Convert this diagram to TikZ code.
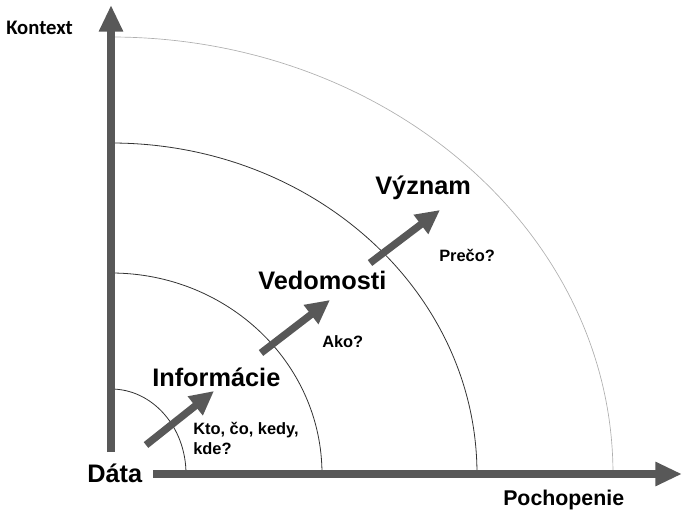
\documentclass[tikz,border=0pt]{standalone}
\usepackage{fontspec}
\setmainfont{Liberation Sans}
\newfontfamily\kontextfont{Carlito}
\usetikzlibrary{arrows.meta}
\definecolor{axisgray}{RGB}{88,88,88}
\definecolor{arcgray}{RGB}{175,175,175}

\begin{document}
\begin{tikzpicture}[x=0.75pt,y=0.75pt,
    every node/.style={inner sep=0pt,font=\bfseries},
    axis/.style={axisgray,line width=5.5pt,-{Triangle[length=20pt,width=17pt]}},
    climb/.style={axisgray,line width=5.5pt,-{Triangle[length=18pt,width=17pt]}},
    ring/.style={black!80,line width=0.6pt},
    biglabel/.style={anchor=base west,font=\bfseries\fontsize{19}{22}\selectfont},
    asklabel/.style={anchor=base west,font=\bfseries\fontsize{12.3}{15}\selectfont}]
    \useasboundingbox (0,0) rectangle (683,512);
    \coordinate (O) at (111,38);
    % arcs
    \draw[ring] (O) ++(75,0) arc (0:90:75 and 85);
    \draw[ring] (O) ++(211,0) arc (0:90:211 and 201);
    \draw[ring] (O) ++(366,0) arc (0:90:366 and 331);
    \draw[arcgray,line width=0.5pt] (O) ++(502,0) arc (0:90:502 and 437);
    % axes
    \coordinate (ybot) at (111,60);
    \coordinate (ytop) at (111,507);
    \coordinate (xleft) at (153,38);
    \coordinate (xright) at (682,38);
    \draw[axis] (ybot) -- (ytop);
    \draw[axis] (xleft) -- (xright);
    \node[anchor=base west,font=\kontextfont\bfseries\fontsize{15.5}{18}\selectfont] (kontext) at (6,477) {Kontext};
    \node[anchor=base west,font=\bfseries\fontsize{16}{19}\selectfont] (pochopenie) at (503,7) {Pochopenie};
    % levels
    \node[biglabel] (data) at (87,30) {Dáta};
    \node[biglabel] (info) at (152,126) {Informácie};
    \node[biglabel] (vedom) at (258,223) {Vedomosti};
    \node[biglabel] (vyznam) at (375,318) {Význam};
    \node[anchor=north west,align=left,font=\bfseries\fontsize{12.3}{15}\selectfont] (kto) at (193,90) {Kto, čo, kedy,\\kde?};
    \node[asklabel] (ako) at (322,165) {Ako?};
    \node[asklabel] (preco) at (439,251) {Prečo?};
    % steps
    \coordinate (s1) at (146,67);  \coordinate (e1) at (214,121);
    \coordinate (s2) at (261,159); \coordinate (e2) at (330,212);
    \coordinate (s3) at (370,249); \coordinate (e3) at (440,302);
    \draw[climb] (s1) -- (e1);
    \draw[climb] (s2) -- (e2);
    \draw[climb] (s3) -- (e3);
\end{tikzpicture}
\end{document}
